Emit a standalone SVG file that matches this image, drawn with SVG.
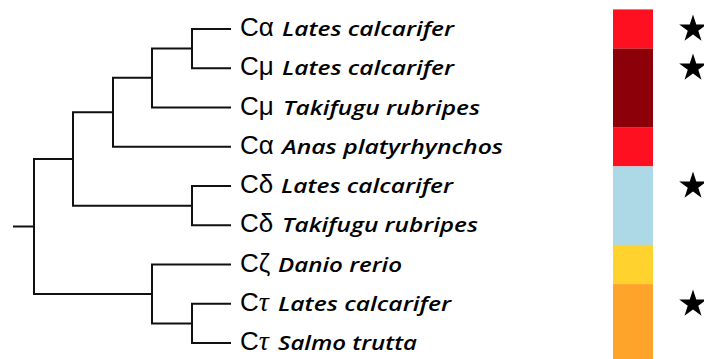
<svg xmlns="http://www.w3.org/2000/svg" width="704" height="359" viewBox="0 0 704 359">
<defs>
<style>
.br{fill:none;stroke:#111;stroke-width:2;stroke-linecap:square}
.g{font-family:"Liberation Sans",Arial,sans-serif;font-size:26px;fill:#000}
.sp{font-family:"Open Sans","Liberation Sans",sans-serif;font-style:italic;font-weight:600;font-size:20px;fill:#000}
.tau{font-family:"Liberation Serif",serif;font-style:italic;font-size:28px}
.star{fill:#000}
</style>
<path id="star" d="M0,-14.5 L3.26,-4.48 L13.79,-4.48 L5.27,1.71 L8.52,11.73 L0,5.54 L-8.52,11.73 L-5.27,1.71 L-13.79,-4.48 L-3.26,-4.48 Z"/>
</defs>
<rect width="704" height="359" fill="#fff"/>
<g id="connectors">
<path class="br" d="M14,226.5 H34 M34,159 V294 M34,159 H73 M73,112.3 V205.7 M73,112.3 H113 M113,77.7 V146.7 M113,146.7 H230 M113,77.7 H152 M152,48.5 V107.5 M152,107.5 H230 M152,48.5 H192 M192,29 V68.2 M192,29 H230 M192,68.2 H230 M73,205.7 H192 M192,186 V225.2 M192,186 H230 M192,225.2 H230 M34,294 H152 M152,264.5 V323.5 M152,264.5 H230 M152,323.5 H192 M192,303.7 V343 M192,303.7 H230 M192,343 H230"/>
</g>
<g id="leaf1"><text class="g" x="240" y="36">Cα</text><text class="sp" x="282" y="36" textLength="172" lengthAdjust="spacingAndGlyphs">Lates calcarifer</text></g>
<g id="leaf2"><text class="g" x="240" y="75.2">Cμ</text><text class="sp" x="282" y="75.2" textLength="172" lengthAdjust="spacingAndGlyphs">Lates calcarifer</text></g>
<g id="leaf3"><text class="g" x="240" y="114.5">Cμ</text><text class="sp" x="283" y="114.5" textLength="197" lengthAdjust="spacingAndGlyphs">Takifugu rubripes</text></g>
<g id="leaf4"><text class="g" x="240" y="153.7">Cα</text><text class="sp" x="282" y="153.7" textLength="221" lengthAdjust="spacingAndGlyphs">Anas platyrhynchos</text></g>
<g id="leaf5"><text class="g" x="240" y="193">Cδ</text><text class="sp" x="281" y="193" textLength="172" lengthAdjust="spacingAndGlyphs">Lates calcarifer</text></g>
<g id="leaf6"><text class="g" x="240" y="232.2">Cδ</text><text class="sp" x="282" y="232.2" textLength="196" lengthAdjust="spacingAndGlyphs">Takifugu rubripes</text></g>
<g id="leaf7"><text class="g" x="240" y="271.5">Cζ</text><text class="sp" x="278" y="271.5" textLength="124" lengthAdjust="spacingAndGlyphs">Danio rerio</text></g>
<g id="leaf8"><text class="g" x="240" y="310.7">C<tspan class="tau">τ</tspan></text><text class="sp" x="278" y="310.7" textLength="173" lengthAdjust="spacingAndGlyphs">Lates calcarifer</text></g>
<g id="leaf9"><text class="g" x="240" y="350">C<tspan class="tau">τ</tspan></text><text class="sp" x="278" y="350" textLength="139" lengthAdjust="spacingAndGlyphs">Salmo trutta</text></g>
<g id="colorbar">
<rect x="613" y="9.4" width="40" height="39.3" fill="#ff1020"/>
<rect x="613" y="48.6" width="40" height="78.6" fill="#8b0009"/>
<rect x="613" y="127.1" width="40" height="39.3" fill="#ff1020"/>
<rect x="613" y="166.4" width="40" height="78.6" fill="#add8e6"/>
<rect x="613" y="244.9" width="40" height="39.3" fill="#ffd22e"/>
<rect x="613" y="284.1" width="40" height="78.6" fill="#ffa42a"/>
</g>
<g id="stars">
<use href="#star" class="star" x="693" y="29"/>
<use href="#star" class="star" x="693" y="68"/>
<use href="#star" class="star" x="693" y="186"/>
<use href="#star" class="star" x="693" y="304"/>
</g>
</svg>
